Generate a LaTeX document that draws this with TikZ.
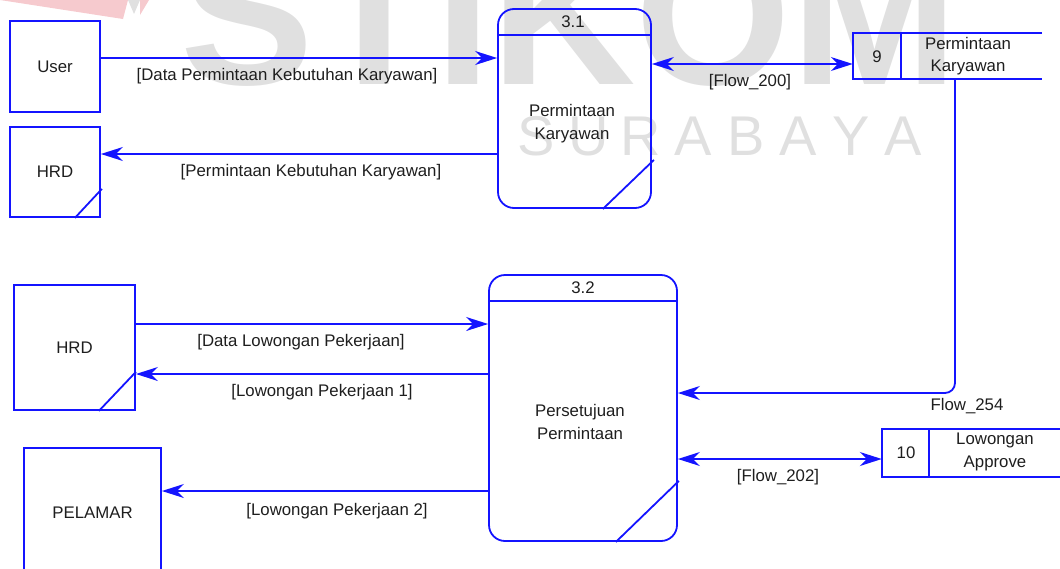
\documentclass[tikz,border=0pt]{standalone}
\usepackage{fontspec}
\setmainfont{Liberation Sans}
\usetikzlibrary{arrows.meta,calc}

\definecolor{dfdblue}{RGB}{20,20,255}
\definecolor{inkgray}{RGB}{30,30,30}
\definecolor{wmgray}{RGB}{224,224,224}
\definecolor{wmpink}{RGB}{246,202,206}
\newcommand\dfdfont{\fontsize{16.8}{22.5}\selectfont}

\tikzset{
  edge/.style={draw=dfdblue, line width=1.8pt},
  entity/.style={edge, rectangle, inner sep=0pt},
  proc/.style={edge, rectangle, rounded corners=16pt, inner sep=0pt},
  storebox/.style={rectangle, inner sep=0pt},
  tip/.tip={Stealth[length=22pt,width=14pt,inset=7pt]},
  flow/.style={edge, -tip},
  twoway/.style={edge, tip-tip},
  lbl/.style={inner sep=0pt, align=center},
  wm/.style={inner sep=0pt, text=wmgray},
}

\begin{document}
\begin{tikzpicture}[x=1pt, y=-1pt, every node/.style={font=\dfdfont, text=inkgray}]
\useasboundingbox (0,0) rectangle (1060,568);
\clip (0,0) rectangle (1060,568);

% background mark
\fill[wmpink] (0,0) -- (128,0) -- (123,19) -- cycle;
\fill[wmgray] (128,0) -- (140,0) -- (134,14) -- cycle;
\fill[wmpink] (140,0) -- (149,0) -- (140,15) -- cycle;
\node[wm, anchor=base west, font=\fontsize{200}{200}\selectfont\bfseries] (wmtop) at (180,84) {STIKOM};
\foreach \c [count=\i from 0] in {S,U,R,A,B,A,Y,A}
  \node[wm, anchor=base, font=\fontsize{56}{56}\selectfont] (wm\i) at (536+52.5*\i,155) {\c};

% external entities
\node[entity, minimum width=90pt, minimum height=91pt] (user) at (55,66.5) {User};
\node[entity, minimum width=90pt, minimum height=90pt] (hrdA) at (55,172) {HRD};
\draw[edge] ($(hrdA.south east)+(-26,0)$) -- ($(hrdA.south east)+(1,-29)$);
\node[entity, minimum width=121pt, minimum height=125pt] (hrdB) at (74.5,347.5) {HRD};
\draw[edge] ($(hrdB.south east)+(-37,0)$) -- ($(hrdB.south east)+(0,-39)$);
\node[entity, minimum width=137pt, minimum height=130pt] (pelamar) at (92.5,513) {PELAMAR};

% processes
\node[proc, minimum width=153pt, minimum height=199pt] (p31) at (574.5,108.5) {};
\draw[edge] ($(p31.north west)+(0,27)$) -- ($(p31.north east)+(0,27)$);
\draw[edge] ($(p31.south east)+(2,-49)$) -- ($(p31.south east)+(-49,0)$);
\node[lbl] (p31id) at ($(p31.north)+(-1.5,14)$) {3.1};
\node[lbl] (p31name) at (572,123.5) {Permintaan\\Karyawan};

\node[proc, minimum width=188pt, minimum height=266pt] (p32) at (583,408) {};
\draw[edge] ($(p32.north west)+(0,27)$) -- ($(p32.north east)+(0,27)$);
\draw[edge] ($(p32.south east)+(1,-61)$) -- ($(p32.south east)+(-62,0)$);
\node[lbl] (p32id) at ($(p32.north)+(0,14)$) {3.2};
\node[lbl] (p32name) at (580,422) {Persetujuan\\Permintaan};

% data stores
\node[storebox, minimum width=189pt, minimum height=46pt] (s9) at (947.5,56) {};
\draw[edge] (s9.north east) -- (s9.north west) -- (s9.south west) -- (s9.south east);
\draw[edge] ($(s9.north west)+(48,0)$) -- ($(s9.south west)+(48,0)$);
\node[lbl] (s9id) at (877,57) {9};
\node[lbl] (s9name) at (968,56) {Permintaan\\Karyawan};

\node[storebox, minimum width=188pt, minimum height=48pt] (s10) at (976,453) {};
\draw[edge] (s10.north east) -- (s10.north west) -- (s10.south west) -- (s10.south east);
\draw[edge] ($(s10.north west)+(47,0)$) -- ($(s10.south west)+(47,0)$);
\node[lbl] (s10id) at (906,453) {10};
\node[lbl] (s10name) at (995,452) {Lowongan\\Approve};

% data flows
\draw[flow] (user.east |- 0,58) -- (p31.west |- 0,58);
\node[lbl] (f1) at (287,76) {[Data Permintaan Kebutuhan Karyawan]};
\draw[flow] (p31.west |- 0,154) -- (hrdA.east |- 0,154);
\node[lbl] (f2) at (311,172) {[Permintaan Kebutuhan Karyawan]};
\draw[twoway] (p31.east |- 0,64) -- (s9.west |- 0,64);
\node[lbl] (f3) at (750,82) {[Flow\_200]};
\draw[flow, rounded corners=10pt] (s9.south -| 955,0) -- (955,393) -- (p32.east |- 0,393);
\node[lbl] (f4) at (967,406) {Flow\_254};
\draw[flow] (hrdB.east |- 0,324) -- (p32.west |- 0,324);
\node[lbl] (f5) at (301,342) {[Data Lowongan Pekerjaan]};
\draw[flow] (p32.west |- 0,374) -- (hrdB.east |- 0,374);
\node[lbl] (f6) at (322,392) {[Lowongan Pekerjaan 1]};
\draw[flow] (p32.west |- 0,491) -- (pelamar.east |- 0,491);
\node[lbl] (f7) at (337,511) {[Lowongan Pekerjaan 2]};
\draw[twoway] (p32.east |- 0,459) -- (s10.west |- 0,459);
\node[lbl] (f8) at (778,477) {[Flow\_202]};
\end{tikzpicture}
\end{document}
